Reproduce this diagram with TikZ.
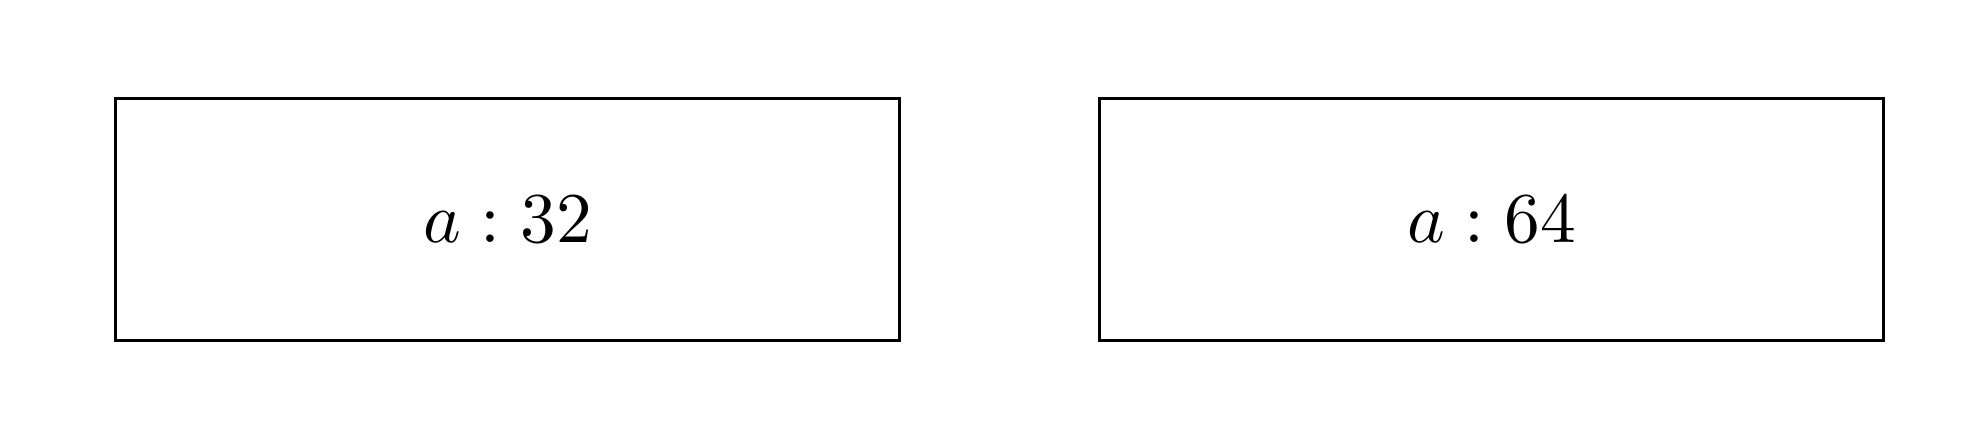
\documentclass[tikz,border=0pt]{standalone}
\begin{document}
\begin{tikzpicture}[x=0.14pt,y=-0.14pt,
  cell/.style={draw=black,line width=0.42pt,minimum width=784*0.14pt,minimum height=241.7*0.14pt,inner sep=0pt,outer sep=0pt,font=\fontsize{10}{12}\selectfont}]
\useasboundingbox (0,0) rectangle (1969,441);
\node[cell] (a) at (507.5,219.6) {$a:32$};
\node[cell] (b) at (1491.7,219.6) {$a:64$};
\end{tikzpicture}
\end{document}
